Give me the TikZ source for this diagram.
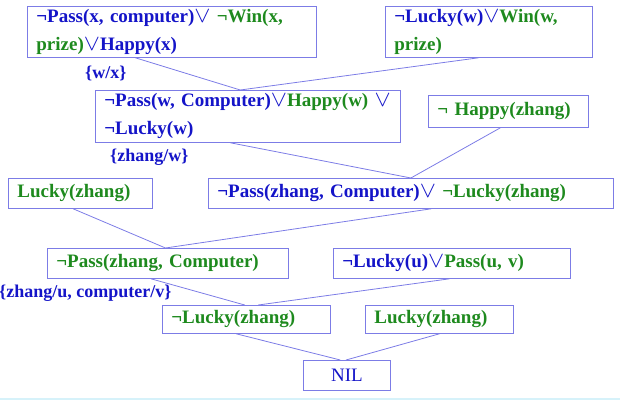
\documentclass[tikz,border=0pt]{standalone}
\usepackage{fontspec}
\setmainfont{Liberation Serif}
\usetikzlibrary{calc}
\definecolor{clblue}{HTML}{1414C8}
\definecolor{clgreen}{HTML}{1E8A1E}
\definecolor{edge}{HTML}{7C7CE6}
\definecolor{slide}{HTML}{D6F2FA}
\newcommand{\orsym}{\scalebox{1.4}[1.3]{$\vee$}}

\begin{document}
\begin{tikzpicture}[x=1pt, y=-1pt,
  clause/.style={draw=edge, line width=0.8pt, anchor=north west, inner ysep=0pt,
    inner xsep=9pt, align=left, text=clblue,
    font=\fontsize{19}{28}\selectfont\bfseries},
  link/.style={edge, line width=0.8pt},
  subst/.style={anchor=west, inner sep=0pt, text=clblue,
    font=\fontsize{18}{20}\selectfont\bfseries}]
  \useasboundingbox (0,0) rectangle (620,401);
  \draw[slide, line width=1.5pt] (0,399) -- (620,399);

  % clauses, row by row
  \node[clause, minimum width=289pt, minimum height=51pt, text width=271pt] (c1) at (27,6)
    {¬Pass(x, computer)\orsym\ {\color{clgreen}¬Win(x,}\\{\color{clgreen}prize)}\orsym Happy(x)};
  \node[clause, minimum width=207pt, minimum height=51pt, text width=189pt] (c2) at (385,6)
    {¬Lucky(w)\orsym{\color{clgreen}Win(w,}\\{\color{clgreen}prize)}};
  \node[clause, minimum width=305pt, minimum height=52pt, text width=287pt] (c3) at (95,90)
    {¬Pass(w, Computer)\orsym{\color{clgreen}Happy(w)} \orsym\\¬Lucky(w)};
  \node[clause, minimum width=160pt, minimum height=32pt, text width=142pt] (c4) at (428,95)
    {\color{clgreen}¬ Happy(zhang)};
  \node[clause, minimum width=144pt, minimum height=30pt, text width=126pt] (c5) at (8,178)
    {\color{clgreen}Lucky(zhang)};
  \node[clause, minimum width=405pt, minimum height=30pt, text width=387pt] (c6) at (208,178)
    {¬Pass(zhang, Computer)\orsym\ {\color{clgreen}¬Lucky(zhang)}};
  \node[clause, minimum width=241pt, minimum height=30pt, text width=223pt] (c7) at (47,248)
    {\color{clgreen}¬Pass(zhang, Computer)};
  \node[clause, minimum width=237pt, minimum height=30pt, text width=219pt] (c8) at (333,248)
    {¬Lucky(u)\orsym{\color{clgreen}Pass(u, v)}};
  \node[clause, minimum width=168pt, minimum height=28pt, text width=150pt] (c9) at (162,305)
    {\color{clgreen}¬Lucky(zhang)};
  \node[clause, minimum width=148pt, minimum height=28pt, text width=130pt] (c10) at (365,305)
    {\color{clgreen}Lucky(zhang)};
  \node[clause, minimum width=87pt, minimum height=30pt, font=\fontsize{19}{20}\selectfont] (nil) at (303,360)
    {NIL};

  % substitutions
  \node[subst] (s1) at (85,73) {\{w/x\}};
  \node[subst] (s2) at (110,157) {\{zhang/w\}};
  \node[subst] (s3) at (-1,293) {\{zhang/u, computer/v\}};

  % resolution links
  \draw[link] ($(c1.south west)!0.374!(c1.south east)$) -- ($(c3.north west)!0.475!(c3.north east)$);
  \draw[link] ($(c2.south west)!0.45!(c2.south east)$) -- ($(c3.north west)!0.475!(c3.north east)$);
  \draw[link] ($(c3.south west)!0.443!(c3.south east)$) -- ($(c6.north west)!0.5!(c6.north east)$);
  \draw[link] ($(c4.south west)!0.45!(c4.south east)$) -- ($(c6.north west)!0.5!(c6.north east)$);
  \draw[link] ($(c5.south west)!0.45!(c5.south east)$) -- ($(c7.north west)!0.49!(c7.north east)$);
  \draw[link] ($(c6.south west)!0.55!(c6.south east)$) -- ($(c7.north west)!0.49!(c7.north east)$);
  \draw[link] ($(c7.south west)!0.43!(c7.south east)$) -- ($(c9.north west)!0.49!(c9.north east)$);
  \draw[link] ($(c8.south west)!0.49!(c8.south east)$) -- ($(c9.north west)!0.57!(c9.north east)$);
  \draw[link] ($(c9.south west)!0.44!(c9.south east)$) -- ($(nil.north west)!0.425!(nil.north east)$);
  \draw[link] ($(c10.south west)!0.5!(c10.south east)$) -- ($(nil.north west)!0.49!(nil.north east)$);
\end{tikzpicture}
\end{document}
